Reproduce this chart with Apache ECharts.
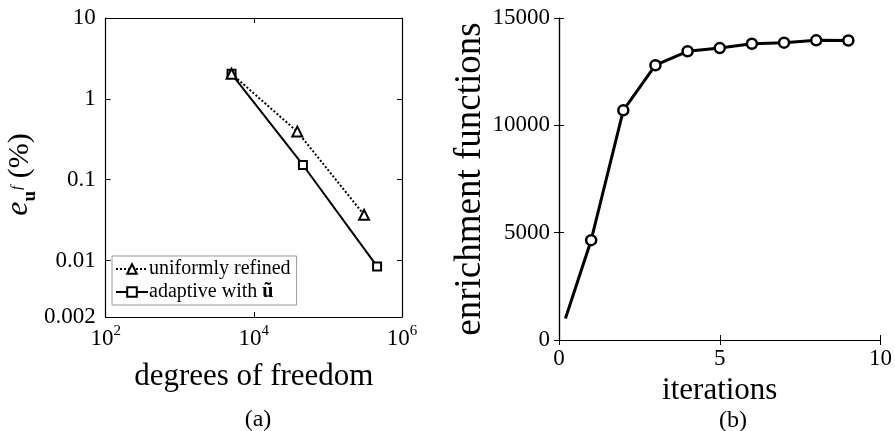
<!DOCTYPE html>
<html>
<head>
<meta charset="utf-8">
<script src="https://cdn.jsdelivr.net/npm/echarts@6/dist/echarts.min.js"></script>
<style>html,body{margin:0;padding:0;background:#fff}#c{width:895px;height:431px}</style>
</head>
<body>
<div id="c"></div>
<script>
// (a) error vs degrees of freedom
var uniformDofs   = [5000, 38600, 308000];
var uniformErr    = [2.04, 0.393, 0.0367];
var adaptiveDofs  = [5000, 46000, 461000];
var adaptiveErr   = [2.04, 0.152, 0.00845];
// (b) enrichment functions vs iterations
var iterations    = [0.2, 1, 2, 3, 4, 5, 6, 7, 8, 9];
var enrichment    = [1000, 4650, 10700, 12800, 13450, 13600, 13800, 13850, 13960, 13950];
var leftYTicks    = ['10', '1', '0.1', '0.01', '0.002'];
var seriesNames   = ['uniformly refined', 'adaptive with ũ'];

var FONT = 'Liberation Serif';
function zip(a, b) { return a.map(function (v, i) { return [v, b[i]]; }); }

var chart = echarts.init(document.getElementById('c'), null, {renderer: 'canvas'});
var tickStyle = {inside: true, length: 5, lineStyle: {color: '#000', width: 1}};
var lineAx = {show: true, lineStyle: {color: '#000', width: 1.2}};

var bData = zip(iterations, enrichment).map(function (p, i) {
  return i === 0 ? {value: p, symbol: 'none'} : p;
});

chart.setOption({
  backgroundColor: '#fff',
  animation: false,
  textStyle: {fontFamily: FONT, color: '#000'},
  title: [
    {text: '(a)', left: 253, top: 403, textAlign: 'center', textStyle: {fontFamily: FONT, fontSize: 24, fontWeight: 'normal', color: '#000'}},
    {text: '(b)', left: 728, top: 404, textAlign: 'center', textStyle: {fontFamily: FONT, fontSize: 24, fontWeight: 'normal', color: '#000'}}
  ],
  grid: [
    {left: 104, top: 18, width: 298, height: 299, show: false},
    {left: 559, top: 18, width: 323, height: 322, show: false}
  ],
  legend: {
    data: seriesNames,
    orient: 'vertical',
    left: 112, top: 256,
    backgroundColor: '#fff',
    borderColor: '#999',
    borderWidth: 1,
    borderRadius: 0,
    padding: [3, 6, 3, 3],
    itemGap: 3,
    itemWidth: 32,
    itemHeight: 12,
    textStyle: {
      fontFamily: FONT, fontSize: 20, color: '#000', padding: [0, 0, 0, -4],
      rich: {b: {fontFamily: FONT, fontSize: 20, fontWeight: 'bold', color: '#000'}}
    },
    formatter: function (n) { return n === seriesNames[1] ? 'adaptive with {b|ũ}' : n; }
  },
  xAxis: [
    {
      gridIndex: 0, type: 'log', logBase: 100, min: 100, max: 1000000,
      position: 'bottom',
      axisLine: lineAx, axisTick: tickStyle, splitLine: {show: false},
      axisLabel: {
        margin: 7, color: '#000', fontFamily: FONT, fontSize: 22,
        formatter: function (v) { return '{b|10}{s|' + Math.round(Math.log10(v)) + '}'; },
        rich: {b: {fontFamily: FONT, fontSize: 23, color: '#000', lineHeight: 26, verticalAlign: 'bottom'},
               s: {fontFamily: FONT, fontSize: 15, color: '#000', verticalAlign: 'top', lineHeight: 26}}
      },
      name: 'degrees of freedom', nameLocation: 'middle', nameGap: 44,
      nameTextStyle: {fontFamily: FONT, fontSize: 31, color: '#000', verticalAlign: 'top'}
    },
    {
      gridIndex: 0, type: 'log', logBase: 100, min: 100, max: 1000000,
      position: 'top', axisLine: lineAx, axisTick: tickStyle, axisLabel: {show: false}, splitLine: {show: false}
    },
    {
      gridIndex: 1, type: 'value', min: 0, max: 10, interval: 5,
      position: 'bottom', axisLine: lineAx, axisTick: tickStyle, splitLine: {show: false},
      axisLabel: {margin: 7, color: '#000', fontFamily: FONT, fontSize: 23},
      name: 'iterations', nameLocation: 'middle', nameGap: 29,
      nameTextStyle: {fontFamily: FONT, fontSize: 31, color: '#000', verticalAlign: 'top'}
    },
    {
      gridIndex: 1, type: 'value', min: 0, max: 10, interval: 5,
      position: 'top', axisLine: lineAx, axisTick: tickStyle, axisLabel: {show: false}, splitLine: {show: false}
    }
  ],
  yAxis: [
    {
      gridIndex: 0, type: 'log', min: 0.002, max: 10,
      position: 'left', axisLine: lineAx, axisTick: tickStyle, splitLine: {show: false},
      axisLabel: {
        margin: 10, color: '#000', fontFamily: FONT, fontSize: 23,
        formatter: function (v) {
          var l = Math.log10(v);
          if (Math.abs(l - Math.round(l)) < 1e-6) return leftYTicks[1 - Math.round(l)];
          return leftYTicks[4];
        }
      },
      name: '{i|e}{u|u}{f|f}{n| (%)}', nameLocation: 'middle', nameGap: 61, nameRotate: 90,
      nameTextStyle: {
        fontFamily: FONT, fontSize: 30, color: '#000', padding: [0, 14, 0, 0],
        rich: {
          i: {fontFamily: FONT, fontSize: 32, fontStyle: 'italic', color: '#000', verticalAlign: 'bottom', lineHeight: 34},
          u: {fontFamily: FONT, fontSize: 19, fontWeight: 'bold', color: '#000', verticalAlign: 'bottom', lineHeight: 34, padding: [0, 0, -5, 0]},
          f: {fontFamily: FONT, fontSize: 15, fontStyle: 'italic', color: '#000', verticalAlign: 'top', lineHeight: 34, padding: [9, 0, 0, 1]},
          n: {fontFamily: FONT, fontSize: 30, color: '#000', verticalAlign: 'bottom', lineHeight: 34}
        }
      }
    },
    {
      gridIndex: 0, type: 'log', min: 0.002, max: 10,
      position: 'right', axisLine: lineAx, axisTick: tickStyle, axisLabel: {show: false}, splitLine: {show: false}
    },
    {
      gridIndex: 1, type: 'value', min: 0, max: 15000, interval: 5000,
      position: 'left', axisLine: lineAx, axisTick: tickStyle, splitLine: {show: false},
      axisLabel: {margin: 9, color: '#000', fontFamily: FONT, fontSize: 23,
        formatter: function (v) { return String(v); }},
      name: 'enrichment functions', nameLocation: 'middle', nameGap: 56,
      nameTextStyle: {fontFamily: FONT, fontSize: 37, color: '#000'}
    },
    {
      gridIndex: 1, type: 'value', min: 0, max: 15000, interval: 5000,
      position: 'right', axisLine: lineAx, axisTick: tickStyle, axisLabel: {show: false}, splitLine: {show: false}
    }
  ],
  series: [
    {
      name: seriesNames[0], type: 'line', xAxisIndex: 0, yAxisIndex: 0,
      data: zip(uniformDofs, uniformErr),
      symbol: 'triangle', symbolSize: 10, showAllSymbol: true,
      itemStyle: {color: '#fff', borderColor: '#000', borderWidth: 2},
      lineStyle: {color: '#000', width: 2, type: [2, 2]},
      z: 3
    },
    {
      name: seriesNames[1], type: 'line', xAxisIndex: 0, yAxisIndex: 0,
      data: zip(adaptiveDofs, adaptiveErr),
      symbol: 'rect', symbolSize: 8, showAllSymbol: true,
      itemStyle: {color: '#fff', borderColor: '#000', borderWidth: 2},
      lineStyle: {color: '#000', width: 2},
      z: 2
    },
    {
      name: 'enrichment', type: 'line', xAxisIndex: 2, yAxisIndex: 2,
      data: bData,
      symbol: 'circle', symbolSize: 10, showAllSymbol: true,
      itemStyle: {color: '#fff', borderColor: '#000', borderWidth: 2.5},
      lineStyle: {color: '#000', width: 3}
    }
  ]
});
</script>
</body>
</html>
